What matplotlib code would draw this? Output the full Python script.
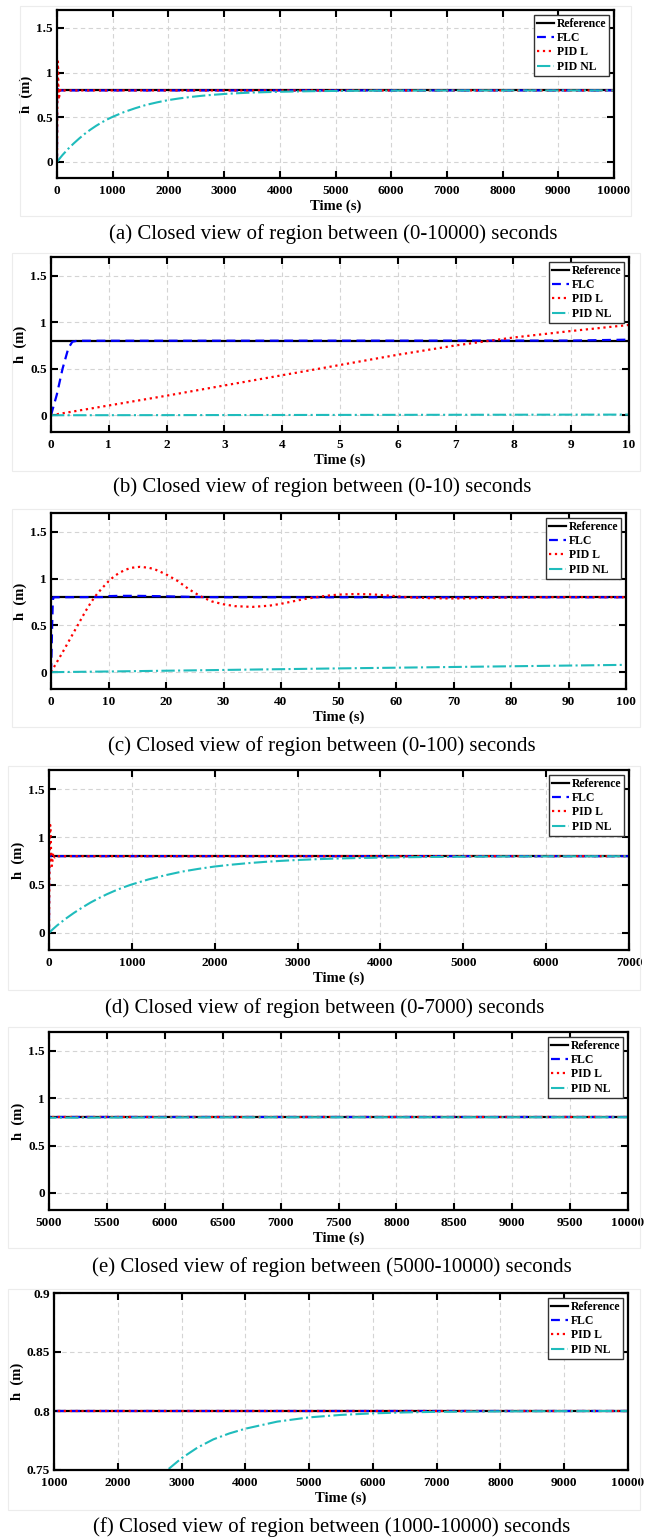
import numpy as np
import matplotlib
matplotlib.use("Agg")
import matplotlib.pyplot as plt
from matplotlib.patches import Rectangle

plt.rcParams['font.family'] = ['Liberation Serif', 'DejaVu Serif']

W, H = 645, 1539

# reference level (m)
ref_t = [0, 10000]
ref_h = [0.8, 0.8]

# FLC response
flc_t = [0, 0.1, 0.2, 0.3, 0.37, 0.45, 9, 10, 12, 15, 20, 25, 30, 10000]
flc_h = [0, 0.22, 0.5, 0.72, 0.79, 0.80, 0.802, 0.812, 0.815, 0.815, 0.81, 0.803, 0.80, 0.80]

# linear PID response
pidl_t = [0, 1, 2, 3, 4, 5, 6, 7, 8, 9, 10, 11, 12, 13, 14, 15.5, 17, 18, 20, 22, 24, 26,
          28, 30, 32, 35, 38, 40, 42, 44, 46, 48, 50, 53, 56, 59, 62, 66, 70, 74, 78, 84,
          90, 100, 10000]
pidl_h = [0, 0.105, 0.21, 0.32, 0.43, 0.54, 0.65, 0.75, 0.835, 0.905, 0.97, 1.025, 1.065,
          1.095, 1.115, 1.125, 1.115, 1.10, 1.045, 0.975, 0.885, 0.81, 0.755, 0.725, 0.705,
          0.697, 0.71, 0.73, 0.755, 0.78, 0.80, 0.817, 0.828, 0.835, 0.83, 0.817, 0.80,
          0.79, 0.787, 0.79, 0.796, 0.80, 0.802, 0.80, 0.80]

# nonlinear PID response
pidnl_t = [0, 10, 50, 100, 200, 300, 400, 500, 600, 700, 800, 900, 1000, 1200, 1400, 1600,
           1800, 2000, 2200, 2400, 2600, 2800, 3000, 3250, 3500, 3750, 4000, 4500, 5000,
           5500, 6000, 6500, 7000, 8000, 9000, 10000]
pidnl_h = [0, 0.007, 0.04, 0.078, 0.146, 0.207, 0.263, 0.315, 0.361, 0.403, 0.441, 0.475,
           0.505, 0.557, 0.600, 0.638, 0.667, 0.692, 0.711, 0.727, 0.740, 0.751, 0.760,
           0.769, 0.776, 0.781, 0.785, 0.791, 0.7946, 0.7967, 0.798, 0.7988, 0.7993,
           0.7997, 0.7999, 0.80]

captions = [
    "(a) Closed view of region between (0-10000) seconds",
    "(b) Closed view of region between (0-10) seconds",
    "(c) Closed view of region between (0-100) seconds",
    "(d) Closed view of region between (0-7000) seconds",
    "(e) Closed view of region between (5000-10000) seconds",
    "(f) Closed view of region between (1000-10000) seconds",
]
xlims = [(0, 10000), (0, 10), (0, 100), (0, 7000), (5000, 10000), (1000, 10000)]
xticks = [list(range(0, 10001, 1000)), list(range(0, 11)), list(range(0, 101, 10)),
          list(range(0, 7001, 1000)), list(range(5000, 10001, 500)),
          list(range(1000, 10001, 1000))]
ylims = [(-0.18, 1.7)] * 5 + [(0.75, 0.9)]
yticks = [[0, 0.5, 1, 1.5]] * 5 + [[0.75, 0.8, 0.85, 0.9]]
ytick_labels = [["0", "0.5", "1", "1.5"]] * 5 + [["0.75", "0.8", "0.85", "0.9"]]

# layout in pixels: axes (left, right, top, bottom), frame box, caption (x, y)
axes_px = [(57, 614, 10, 178), (51, 629, 257, 432), (51, 626, 513, 689),
           (49, 629, 770, 950), (49, 628, 1032, 1210), (54, 628, 1293, 1470)]
frames_px = [(20, 631, 6, 216), (12, 640, 253, 471), (12, 640, 509, 727),
             (8, 640, 766, 990), (8, 640, 1027, 1248), (8, 640, 1289, 1510)]
caption_px = [(333, 234), (322, 487), (322, 746), (325, 1008), (332, 1267), (332, 1527)]

fig = plt.figure(figsize=(W / 100, H / 100), dpi=100)

for i in range(6):
    fl, fr, ft, fb = frames_px[i]
    fig.add_artist(Rectangle((fl / W, 1 - fb / H), (fr - fl) / W, (fb - ft) / H,
                             transform=fig.transFigure, fill=False,
                             ec='#ececec', lw=0.8))

    l, r, t, b = axes_px[i]
    ax = fig.add_axes([l / W, 1 - b / H, (r - l) / W, (b - t) / H])

    ax.plot(ref_t, ref_h, color='black', lw=1.6, label='Reference')
    ax.plot(flc_t, flc_h, color='blue', lw=1.6, dashes=(4, 2.5), label='FLC')
    ax.plot(pidl_t, pidl_h, color='red', lw=1.6, ls=':', label='PID L')
    ax.plot(pidnl_t, pidnl_h, color='#1fbcbc', lw=1.5, ls='-.', label='PID NL')

    ax.set_xlim(*xlims[i])
    ax.set_ylim(*ylims[i])
    ax.set_xticks(xticks[i])
    ax.set_xticklabels([str(v) for v in xticks[i]])
    ax.set_yticks(yticks[i])
    ax.set_yticklabels(ytick_labels[i])

    ax.grid(True, color='#d4d4d4', ls=(0, (4, 3)), lw=0.8)
    ax.tick_params(direction='in', length=5, width=1.5, top=True, right=True,
                   labelsize=9.5, pad=3)
    ax.tick_params(axis='x', pad=5)
    for lab in ax.get_xticklabels() + ax.get_yticklabels():
        lab.set_fontweight('bold')
    for sp in ax.spines.values():
        sp.set_linewidth(1.6)

    ax.set_xlabel('Time (s)', fontsize=10.5, fontweight='bold', labelpad=1.5)
    ax.set_ylabel('h  (m)', fontsize=10.5, fontweight='bold', labelpad=2)

    ax.legend(loc='upper right', prop={'size': 8.5, 'weight': 'bold'},
              frameon=True, fancybox=False, framealpha=1, edgecolor='#333333',
              handlelength=1.5, handletextpad=0.2, borderpad=0.25,
              labelspacing=0.2, borderaxespad=0.4)

    cx, cy = caption_px[i]
    fig.text(cx / W, 1 - cy / H, captions[i], ha='center', va='center', fontsize=15)

plt.savefig('out.png', dpi=100)
plt.close()
